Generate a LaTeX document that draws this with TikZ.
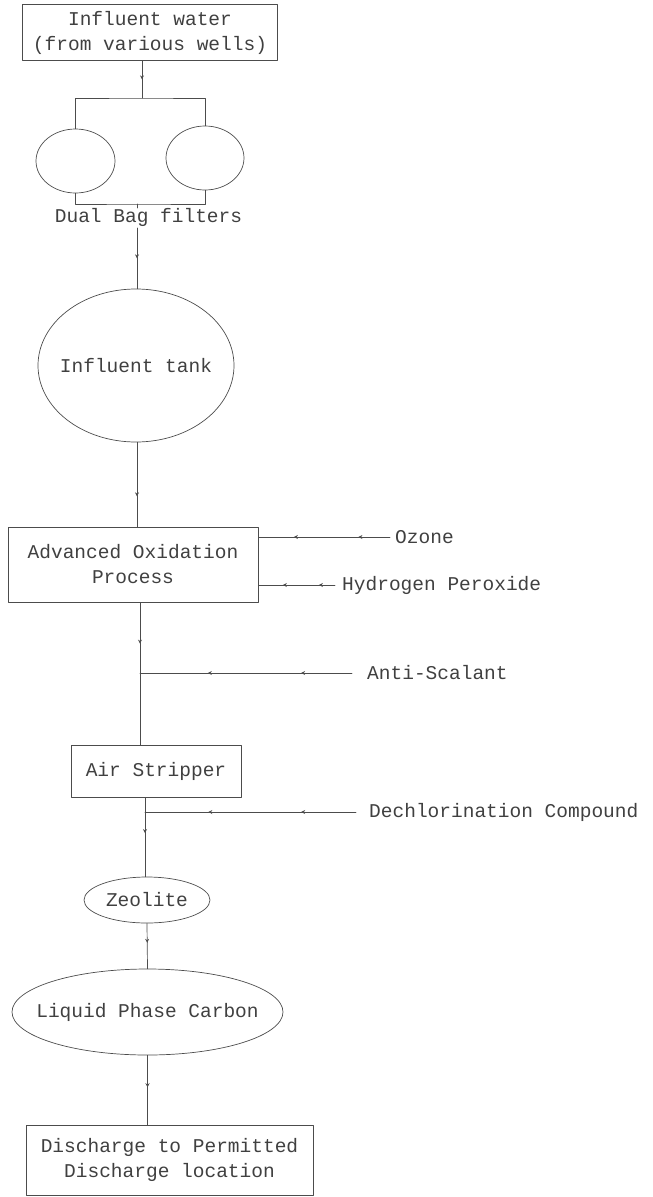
\documentclass[tikz,border=0pt]{standalone}
\usepackage{fontspec}
\newfontfamily\flowfont{Liberation Mono}
\usetikzlibrary{shapes.geometric,decorations.markings,arrows.meta}

\tikzset{
	unit/.style={draw=black!70,line width=0.7pt,rectangle,inner sep=0pt,align=center,
		font=\flowfont\fontsize{19.5}{25}\selectfont,text=black!75},
	vessel/.style={draw=black!70,line width=0.7pt,ellipse,inner sep=0pt},
	vtext/.style={font=\flowfont\fontsize{19.5}{25}\selectfont,text=black!75,inner sep=0pt},
	feedlbl/.style={anchor=west,inner ysep=0pt,font=\flowfont\fontsize{19.5}{25}\selectfont,text=black!75},
	pipe/.style={draw=black!70,line width=0.7pt},
	flowtick/.style={postaction={decorate},decoration={markings,
		mark=at position #1 with {\arrow{Stealth[length=4pt,width=4pt]}}}},
	twoticks/.style 2 args={postaction={decorate},decoration={markings,
		mark=at position #1 with {\arrow{Stealth[length=4pt,width=4pt]}},
		mark=at position #2 with {\arrow{Stealth[length=4pt,width=4pt]}}}}
}

\begin{document}
\begin{tikzpicture}[line cap=round,line join=round,x=1pt,y=-1pt]
	\useasboundingbox (0,0) rectangle (653,1197);
	
	% main units
	\node[unit,minimum width=255pt,minimum height=56pt] (src) at (150,32.5) {Influent water\\(from various wells)};
	\node[vessel,minimum width=79pt,minimum height=64pt] (bagL) at (75.5,161) {};
	\node[vessel,minimum width=78pt,minimum height=64pt] (bagR) at (205,158) {};
	\node[feedlbl,anchor=center] (baglbl) at (148.5,217) {Dual Bag filters};
	\node[vessel,minimum width=196pt,minimum height=153pt,label={[vtext]center:Influent tank}] (tank) at (136,365.5) {};
	\node[unit,minimum width=250pt,minimum height=75pt] (aop) at (133,564.5) {Advanced Oxidation\\Process};
	\node[unit,minimum width=170pt,minimum height=52pt] (airs) at (156,771) {Air Stripper};
	\node[vessel,minimum width=126pt,minimum height=46pt,label={[vtext]center:Zeolite}] (zeo) at (147,900) {};
	\node[vessel,minimum width=271pt,minimum height=86pt,label={[vtext]center:Liquid Phase Carbon}] (lpc) at (147.5,1012) {};
	\node[unit,minimum width=287pt,minimum height=70pt] (out) at (169.5,1160) {Discharge to Permitted\\Discharge location};
	
	% chemical feeds
	\node[feedlbl,inner xsep=5pt] (o3) at (390,537) {Ozone};
	\node[feedlbl,inner xsep=7pt] (h2o2) at (335,585) {Hydrogen Peroxide};
	\node[feedlbl,inner xsep=15pt] (antis) at (352,673) {Anti-Scalant};
	\node[feedlbl,inner xsep=13pt] (dechl) at (356,812) {Dechlorination Compound};
	
	\coordinate (split) at (142,98);
	\coordinate (join) at (137,204);
	\coordinate (bagout) at (137,228);
	\coordinate (j1) at (140,673);
	\coordinate (j2) at (145,812);
	
	% flow lines
	\draw[pipe,flowtick=0.5] (src.south -| split) -- (split);
	\draw[pipe] (bagL.north) |- (split) -| (bagR.north);
	\draw[pipe] (bagL.south) |- (join) -| (bagR.south);
	\draw[pipe] (join) -- ++(0,4);
	\draw[pipe,flowtick=0.5] (bagout) -- (bagout |- tank.north);
	\draw[pipe,flowtick=0.64] (tank.south -| bagout) -- (bagout |- aop.north);
	\draw[pipe,flowtick=0.29] (j1 |- aop.south) -- (j1 |- airs.north);
	\draw[pipe,flowtick=0.45] (j2 |- airs.south) -- (j2 |- zeo.north);
	\draw[pipe,flowtick=0.43] (zeo.south) -- (lpc.north);
	\draw[pipe,flowtick=0.46] (lpc.south) -- (lpc.south |- out.north);
	
	\draw[pipe,twoticks={0.24}{0.73}] (o3.west) -- (o3.west -| aop.east);
	\draw[pipe,twoticks={0.21}{0.68}] (h2o2.west) -- (h2o2.west -| aop.east);
	\draw[pipe,twoticks={0.24}{0.68}] (antis.west) -- (j1);
	\draw[pipe,twoticks={0.26}{0.70}] (dechl.west) -- (j2);
\end{tikzpicture}
\end{document}
